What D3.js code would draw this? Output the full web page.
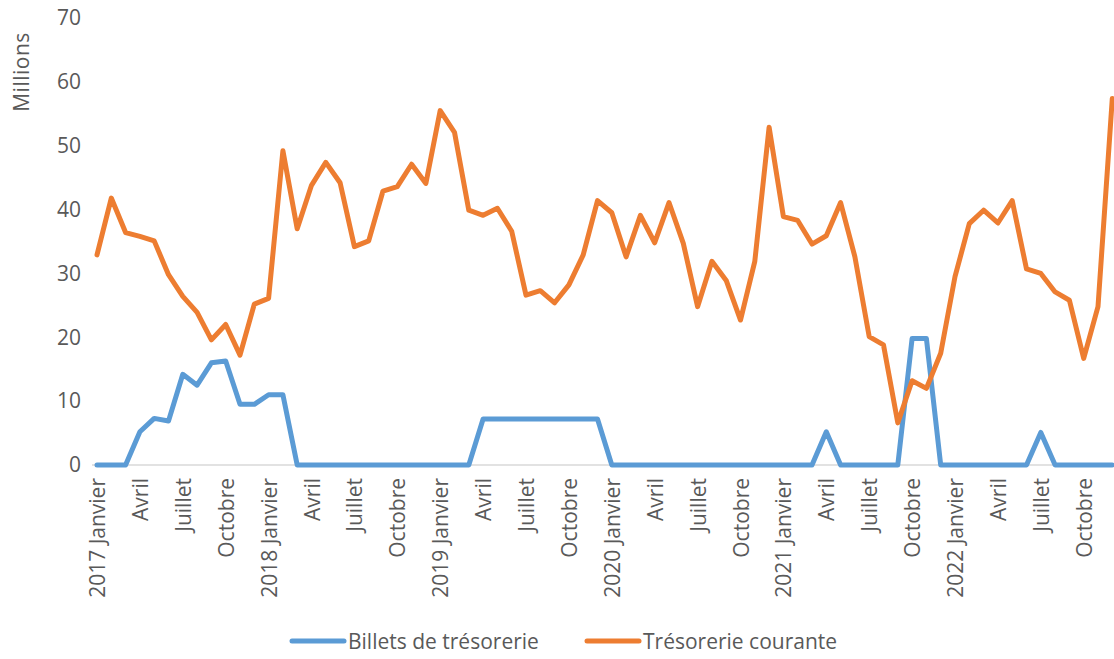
<!DOCTYPE html>
<html lang="fr">
<head>
<meta charset="utf-8">
<script src="https://cdn.jsdelivr.net/npm/d3@7"></script>
<style>
  html, body { margin: 0; padding: 0; background: #fff; }
  svg { display: block; font-family: "Open Sans", "Liberation Sans", sans-serif; }
</style>
</head>
<body>
<svg id="chart" width="1114" height="659"></svg>
<script>
// Monthly series, January 2017 to December 2022 (values in millions)
const years = [2017, 2018, 2019, 2020, 2021, 2022];
const monthNames = ["Janvier", "Février", "Mars", "Avril", "Mai", "Juin",
  "Juillet", "Août", "Septembre", "Octobre", "Novembre", "Décembre"];

const billetsTresorerie = [
  0, 0, 0, 5.2, 7.3, 6.9, 14.2, 12.5, 16.0, 16.3, 9.5, 9.5,
  11.0, 11.0, 0, 0, 0, 0, 0, 0, 0, 0, 0, 0,
  0, 0, 0, 7.2, 7.2, 7.2, 7.2, 7.2, 7.2, 7.2, 7.2, 7.2,
  0, 0, 0, 0, 0, 0, 0, 0, 0, 0, 0, 0,
  0, 0, 0, 5.2, 0, 0, 0, 0, 0, 19.8, 19.8, 0,
  0, 0, 0, 0, 0, 0, 5.1, 0, 0, 0, 0, 0
];

const tresorerieCourante = [
  32.9, 41.8, 36.4, 35.8, 35.1, 29.8, 26.4, 23.9, 19.6, 22.0, 17.2, 25.2,
  26.1, 49.2, 37.0, 43.8, 47.4, 44.2, 34.2, 35.1, 42.9, 43.6, 47.1, 44.1,
  55.5, 52.1, 39.9, 39.1, 40.2, 36.6, 26.6, 27.3, 25.4, 28.2, 32.9, 41.4,
  39.5, 32.6, 39.1, 34.8, 41.1, 34.7, 24.8, 31.9, 28.9, 22.7, 31.9, 52.9,
  38.9, 38.3, 34.6, 35.9, 41.1, 32.6, 20.1, 18.8, 6.6, 13.2, 12.0, 17.5,
  29.5, 37.8, 39.9, 37.9, 41.4, 30.7, 30.0, 27.1, 25.8, 16.7, 24.8, 57.4
];

const yTicks = [0, 10, 20, 30, 40, 50, 60, 70];
const seriesNames = ["Billets de trésorerie", "Trésorerie courante"];
const seriesColors = ["#5B9BD5", "#ED7D31"];

// One category per month; a label every quarter
const months = d3.range(billetsTresorerie.length);
const monthLabel = i => {
  const m = i % 12;
  return m === 0 ? `${years[Math.floor(i / 12)]} ${monthNames[m]}` : monthNames[m];
};

const svg = d3.select("#chart");
const textColor = "#595959";
const fontSize = "21px";

const x = d3.scalePoint().domain(months).range([97, 1112.3]);
const y = d3.scaleLinear().domain([0, 70]).range([465, 18]);

// Horizontal baseline
svg.append("line")
  .attr("x1", 92).attr("x2", 1114)
  .attr("y1", y(0)).attr("y2", y(0))
  .attr("stroke", "#d9d9d9").attr("stroke-width", 1.5);

// Y axis (labels only)
const yAxis = d3.axisLeft(y).tickValues(yTicks).tickSize(0).tickPadding(0);
const gy = svg.append("g").attr("transform", "translate(81,0)").call(yAxis);
gy.select(".domain").remove();
gy.selectAll("text")
  .attr("fill", textColor)
  .style("font-size", fontSize)
  .style("font-family", "'Open Sans', sans-serif");

svg.append("text")
  .attr("transform", "translate(29,72) rotate(-90)")
  .attr("text-anchor", "middle")
  .attr("fill", textColor)
  .style("font-size", fontSize)
  .style("letter-spacing", "0.5px")
  .text("Millions");

// X axis: rotated quarterly labels
const xAxis = d3.axisBottom(x)
  .tickValues(months.filter(i => i % 3 === 0))
  .tickFormat(monthLabel)
  .tickSize(0).tickPadding(0);
const gx = svg.append("g").attr("transform", `translate(0,${y(0)})`).call(xAxis);
gx.select(".domain").remove();
gx.selectAll("text")
  .attr("fill", textColor)
  .style("font-size", fontSize)
  .style("font-family", "'Open Sans', sans-serif")
  .attr("text-anchor", "end")
  .attr("transform", "rotate(-90)")
  .attr("x", -13)
  .attr("y", 0)
  .attr("dy", "0.36em");

// Lines
const line = d3.line().x((d, i) => x(i)).y(d => y(d));
[billetsTresorerie, tresorerieCourante].forEach((vals, k) => {
  svg.append("path")
    .datum(vals)
    .attr("fill", "none")
    .attr("stroke", seriesColors[k])
    .attr("stroke-width", 5)
    .attr("stroke-linejoin", "round")
    .attr("stroke-linecap", "round")
    .attr("d", line);
});

// Legend
const legendX = [292, 587];
seriesNames.forEach((name, k) => {
  const g = svg.append("g").attr("transform", `translate(${legendX[k]},641)`);
  g.append("line")
    .attr("x1", 0).attr("x2", 52)
    .attr("stroke", seriesColors[k]).attr("stroke-width", 5)
    .attr("stroke-linecap", "round");
  g.append("text")
    .attr("x", 56).attr("y", 0).attr("dy", "0.36em")
    .attr("fill", textColor)
    .style("font-size", fontSize)
    .text(name);
});
</script>
</body>
</html>
